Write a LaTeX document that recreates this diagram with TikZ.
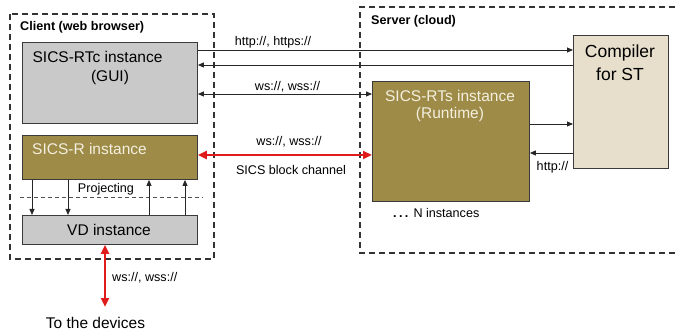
\documentclass[tikz,border=0pt]{standalone}
\usepackage{fontspec}
\setmainfont{Liberation Sans}
\usetikzlibrary{arrows.meta}

\definecolor{boxedge}{HTML}{3A3A3A}
\definecolor{guigrey}{HTML}{C9C9C9}
\definecolor{runolive}{HTML}{9E8B47}
\definecolor{compbeige}{HTML}{E7DFCC}
\definecolor{oltext}{HTML}{F3F0E0}
\definecolor{linkred}{HTML}{E01B1B}
\definecolor{dashgrey}{HTML}{333333}

\begin{document}
\begin{tikzpicture}[x=1pt,y=-1pt,
  box/.style={draw=boxedge, line width=0.9pt, inner sep=0pt, anchor=north west},
  txt/.style={anchor=base, inner sep=0pt, font=\fontsize{15.5}{18}\selectfont},
  lbl/.style={anchor=base, inner sep=0pt, font=\fontsize{12.6}{15}\selectfont},
  ttl/.style={anchor=base west, inner sep=0pt, font=\fontsize{12.6}{15}\selectfont\bfseries},
  frame/.style={draw=dashgrey, line width=1.2pt, dash pattern=on 6pt off 4pt},
  arr/.style={draw=black!85, line width=0.8pt, -{Triangle[length=6pt,width=5pt]}},
  darr/.style={draw=black!85, line width=0.8pt, {Triangle[length=6pt,width=5pt]}-{Triangle[length=6pt,width=5pt]}},
  redarr/.style={draw=linkred, line width=2.5pt, {Triangle[length=9pt,width=8pt]}-{Triangle[length=9pt,width=8pt]}}
]
\useasboundingbox (0,0) rectangle (675,331);

% dashed frames: client and server
\draw[frame] (10,14) rectangle (214,259);
\draw[frame] (675,7) -- (360,7) -- (360,253) -- (675,253);
\node[ttl] (clientttl) at (20,31) {Client (web browser)};
\node[ttl] (serverttl) at (371,25) {Server (cloud)};

% client side boxes
\node[box, fill=guigrey, minimum width=175pt, minimum height=81pt] (rtc) at (22,42) {};
\node[box, fill=runolive, minimum width=175pt, minimum height=44pt] (sr) at (22,135) {};
\node[box, fill=guigrey, minimum width=175pt, minimum height=29pt] (vd) at (22,215) {};

\node[txt] (rtcA) at (97.5,63) {SICS-RTc instance};
\node[txt] (rtcB) at (110,82) {(GUI)};
\node[txt, anchor=base west, text=oltext] (srtxt) at (32,155) {SICS-R instance};
\node[txt] (vdtxt) at (109,236) {VD instance};

% projection between SICS-R and VD
\draw[draw=dashgrey!85, line width=1pt, dash pattern=on 4pt off 3pt] (20,198) -- (203,198);
\node[lbl] (proj) at (106,193) {Projecting};
\draw[arr] ([xshift=10pt]sr.south west) -- ([xshift=10pt]vd.north west);
\draw[arr] ([xshift=46pt]sr.south west) -- ([xshift=46pt]vd.north west);
\draw[arr] ([xshift=127pt]vd.north west) -- ([xshift=127pt]sr.south west);
\draw[arr] ([xshift=163pt]vd.north west) -- ([xshift=163pt]sr.south west);

% link to the devices
\coordinate (dev) at (105,307);
\draw[redarr] ([xshift=83pt]vd.south west) -- (dev);
\node[lbl, anchor=base west] (devlbl) at (112,282) {ws://, wss://};
\node[txt] (devtxt) at (95.5,328) {To the devices};

% server side boxes
\node[box, fill=runolive, minimum width=157pt, minimum height=120pt] (rts) at (372,81) {};
\node[box, fill=compbeige, minimum width=95pt, minimum height=133pt] (cmp) at (573,35) {};

\node[txt, text=oltext] (rtsA) at (450,102) {SICS-RTs instance};
\node[txt, text=oltext] (rtsB) at (450,119) {(Runtime)};
\node[txt, font=\fontsize{17.5}{20}\selectfont] (cmpA) at (620,58) {Compiler};
\node[txt, font=\fontsize{17.5}{20}\selectfont] (cmpB) at (620,81) {for ST};
\node[lbl, anchor=base west] (ninst) at (393,218) {{\bfseries .\hspace{2.4pt}.\hspace{2.4pt}.}\hspace{5pt}N instances};

% connections between client and server
\draw[arr] ([yshift=-8pt]rtc.north east) -- ([yshift=-15pt]cmp.north west);
\node[lbl] (httpA) at (273,46) {http://, https://};
\draw[arr] ([yshift=-30pt]cmp.north west) -- ([yshift=-23pt]rtc.north east);
\draw[darr] ([yshift=-52pt]rtc.north east) -- ([yshift=-13pt]rts.north west);
\node[lbl] (wsA) at (287.5,91) {ws://, wss://};
\draw[redarr] ([yshift=-20pt]sr.north east) -- ([yshift=-74pt]rts.north west);
\node[lbl] (wsB) at (289,146) {ws://, wss://};
\node[lbl] (chan) at (291,175) {SICS block channel};

% runtime and compiler
\draw[arr] ([yshift=-43pt]rts.north east) -- ([yshift=-89pt]cmp.north west);
\draw[arr] ([yshift=-118pt]cmp.north west) -- ([yshift=-72pt]rts.north east);
\node[lbl] (httpB) at (552.5,171) {http://};
\end{tikzpicture}
\end{document}
